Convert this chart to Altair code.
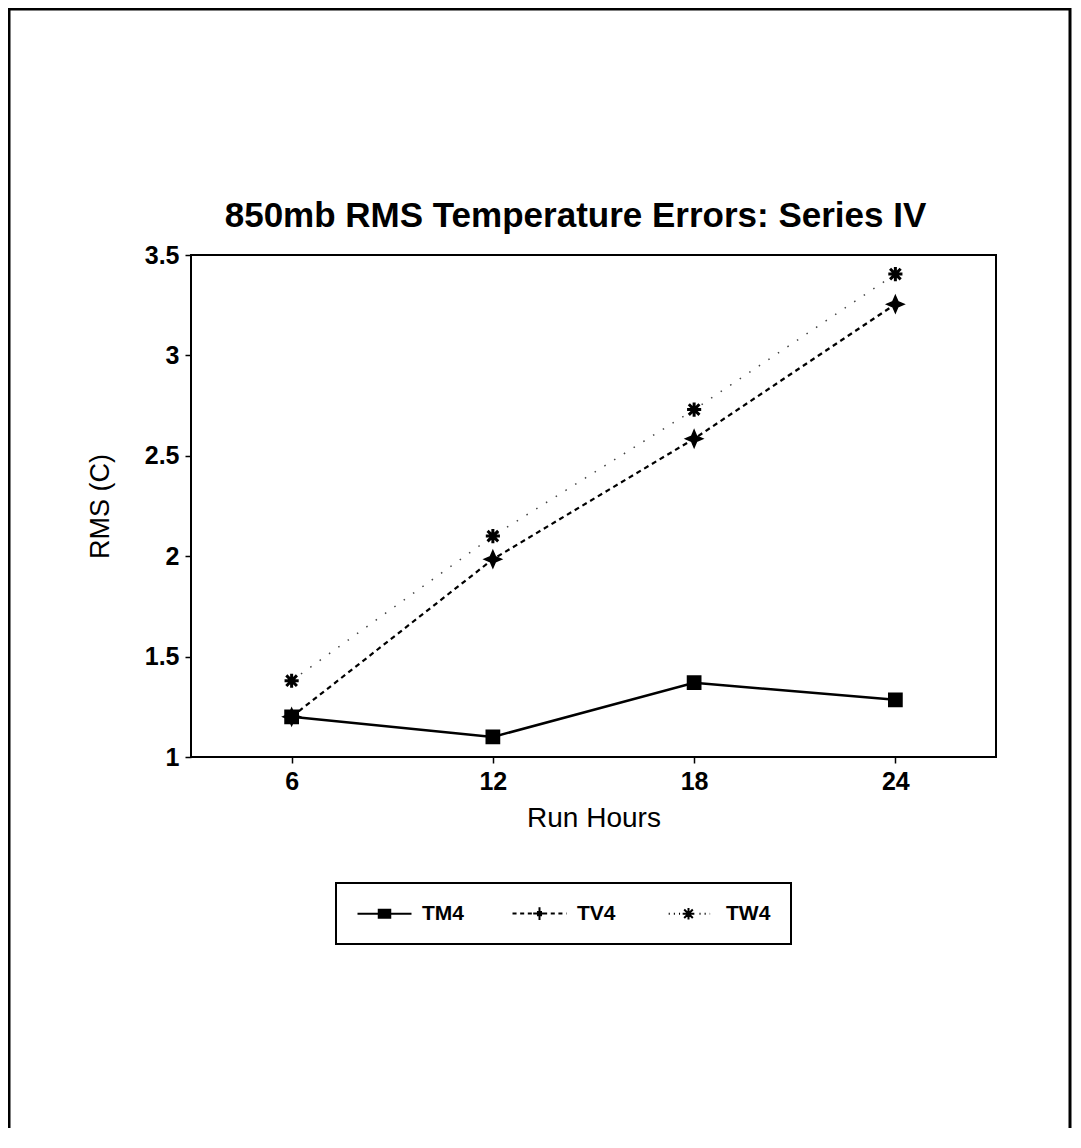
import altair as alt
import pandas as pd

hours = [6, 12, 18, 24]
tm4 = [1.20, 1.10, 1.37, 1.285]
tv4 = [1.20, 1.985, 2.585, 3.255]
tw4 = [1.38, 2.10, 2.73, 3.405]
series = ["TM4", "TV4", "TW4"]
x_ticks = [6, 12, 18, 24]
y_ticks = [1, 1.5, 2, 2.5, 3, 3.5]

title = "850mb RMS Temperature Errors: Series IV"
x_title = "Run Hours"
y_title = "RMS (C)"

rows = []
for name, vals in zip(series, [tm4, tv4, tw4]):
    for h, v in zip(hours, vals):
        rows.append({"series": name, "hour": h, "rms": v})
df = pd.DataFrame(rows)

FONT = "Liberation Sans"

STAR = "M0,-1 L0.3,-0.3 L1,0 L0.3,0.3 L0,1 L-0.3,0.3 L-1,0 L-0.3,-0.3 Z"
AST = "M-1,0 H1 M0,-1 V1 M-0.75,-0.75 L0.75,0.75 M-0.75,0.75 L0.75,-0.75"


def segs(dash, gap, start=-3.0, end=3.0, skip=None):
    out = []
    x = start
    while x < end:
        x2 = min(x + dash, end)
        if skip is None or not (skip[0] < x < skip[1] or skip[0] < x2 < skip[1]):
            out.append("M%.2f,0 H%.2f" % (x, x2))
        x = x2 + gap
    return " ".join(out)


def hatch_rect(hw, hh, step=0.15):
    out = []
    y = -hh
    while y <= hh + 1e-9:
        out.append("M%.2f,%.2f H%.2f" % (-hw, y, hw))
        y += step
    return " ".join(out)


# legend symbols drawn with strokes only (unit = 9 px)
LEG_TM4 = "M-3,0 H3 " + hatch_rect(0.75, 0.45)
LEG_TV4 = (segs(0.45, 0.4) +
           " M-0.7,0 H0.7 M0,-0.7 V0.7 M-0.28,-0.17 H0.28 M-0.28,0.17 H0.28"
           " M-0.17,-0.28 V0.28 M0.17,-0.28 V0.28")
LEG_TW4 = (segs(0.12, 0.45, start=-2.2, end=2.4, skip=(-0.9, 0.9)) +
           " M-0.65,0 H0.65 M0,-0.65 V0.65 M-0.48,-0.48 L0.48,0.48 M-0.48,0.48 L0.48,-0.48")

x_enc = alt.X("hour:Q", title=x_title,
              scale=alt.Scale(domain=[3, 27], nice=False, zero=False),
              axis=alt.Axis(values=x_ticks, format="~g"))
y_enc = alt.Y("rms:Q", title=y_title,
              scale=alt.Scale(domain=[1, 3.5], nice=False, zero=False),
              axis=alt.Axis(values=y_ticks, format="~g"))

base = alt.Chart(df)

line_tm4 = base.transform_filter("datum.series === 'TM4'").mark_line(
    color="black", strokeWidth=2.5).encode(x=x_enc, y=y_enc)
line_tv4 = base.transform_filter("datum.series === 'TV4'").mark_line(
    color="black", strokeWidth=2.2, strokeDash=[5, 4]).encode(x=x_enc, y=y_enc)
line_tw4 = base.transform_filter("datum.series === 'TW4'").mark_line(
    color="#444444", strokeWidth=1.5, strokeDash=[1.5, 10]).encode(x=x_enc, y=y_enc)

pt_tv4 = base.transform_filter("datum.series === 'TV4'").mark_point(
    shape=STAR, size=289, filled=True, fill="black", stroke="black",
    strokeWidth=1.5, opacity=1).encode(x=x_enc, y=y_enc)
pt_tw4 = base.transform_filter("datum.series === 'TW4'").mark_point(
    shape=AST, size=200, filled=True, fill="black", stroke="black",
    strokeWidth=3, opacity=1).encode(x=x_enc, y=y_enc)
pt_tm4 = base.transform_filter("datum.series === 'TM4'").mark_point(
    shape="square", size=150, filled=True, fill="black", stroke="black",
    strokeWidth=2.5, opacity=1).encode(x=x_enc, y=y_enc)

legend_layer = base.transform_filter("false").mark_point(
    filled=False, color="black", strokeWidth=2, opacity=1
).encode(
    x=x_enc, y=y_enc,
    shape=alt.Shape("series:N",
                    scale=alt.Scale(domain=series, range=[LEG_TM4, LEG_TV4, LEG_TW4]),
                    legend=alt.Legend(
                        orient="none", legendX=145, legendY=628,
                        direction="horizontal", title=None,
                        strokeColor="black", padding=20,
                        symbolSize=324, symbolOffset=18, labelOffset=27,
                        columnPadding=44,
                        symbolStrokeColor="black",
                        symbolStrokeWidth=2, symbolOpacity=1,
                        labelFont=FONT, labelFontSize=21, labelFontWeight="bold",
                        labelColor="black",
                    )),
)

frame = alt.Chart(alt.Data(values=[{}])).mark_rect(
    fill="transparent", stroke="black", strokeWidth=3
).encode(
    x=alt.value(-182), x2=alt.value(879), y=alt.value(-246), y2=alt.value(1300)
)

chart = alt.layer(frame, line_tw4, line_tv4, line_tm4, pt_tw4, pt_tv4, pt_tm4,
                  legend_layer).properties(
    width=805, height=502,
    title=alt.TitleParams(text=title, font=FONT, fontSize=35, fontWeight="bold",
                          color="black", anchor="middle", frame="group",
                          offset=0, baseline="alphabetic", dx=-18, dy=254),
    autosize=alt.AutoSizeParams(type="none"),
    padding={"left": 183, "top": 247, "right": 77, "bottom": 371},
).configure_view(
    stroke="black", strokeWidth=2
).configure_axis(
    domain=False, grid=False,
    tickColor="black", tickSize=6, tickWidth=1.5,
    labelFont=FONT, labelFontSize=25, labelFontWeight="bold", labelColor="black",
    titleFont=FONT, titleFontSize=28, titleFontWeight="normal", titleColor="black",
    labelPadding=6,
).configure_axisY(
    titlePadding=30, titleFontSize=27,
).configure_axisX(
    titlePadding=10,
).configure_legend(
    strokeWidth=2,
)

chart.save("out.html", embed_options={"renderer": "svg", "actions": False})
